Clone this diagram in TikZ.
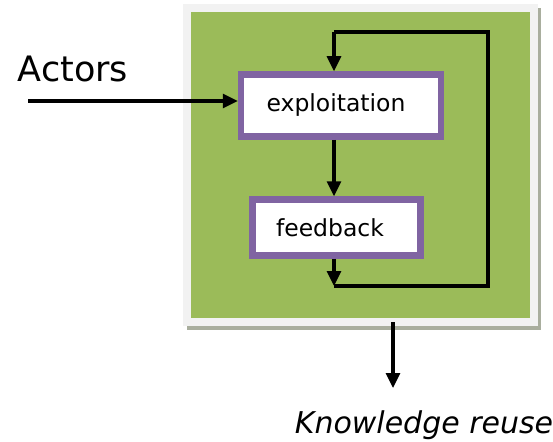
\documentclass[tikz,border=0pt]{standalone}
\usepackage{fontspec}
\setmainfont{DejaVu Sans}
\usetikzlibrary{arrows.meta}
\definecolor{boxgreen}{HTML}{9BBB59}
\definecolor{boxpurple}{HTML}{8064A2}
\definecolor{framegrey}{HTML}{F2F2F2}
\definecolor{shadowgrey}{HTML}{A9AE9E}
\tikzset{
  stepbox/.style={draw=boxpurple, line width=6.5pt, fill=white, inner sep=0pt, font=\fontsize{23.5}{26}\selectfont},
  conn/.style={line width=3.2pt, -{Triangle[length=15pt,width=14pt]}},
  plainline/.style={line width=3.2pt},
}
\begin{document}
\begin{tikzpicture}[x=1pt,y=-1pt]
\useasboundingbox (0,0) rectangle (553,441);
% frame with shadow
\node (shadow) at (364,169) [minimum width=354pt, minimum height=322pt, fill=shadowgrey, inner sep=0pt] {};
\node (frame) at (360.5,165) [minimum width=355pt, minimum height=322pt, fill=framegrey, inner sep=0pt] {};
\node (box) at (360.5,165) [minimum width=339pt, minimum height=306pt, fill=boxgreen, inner sep=0pt] {};
% steps
\node[stepbox, minimum width=200pt, minimum height=62pt] (expl) at (341,105.5) {exploitation\hspace*{10pt}};
\node[stepbox, minimum width=168pt, minimum height=56pt] (fb) at (336.5,227.5) {feedback\hspace*{13pt}};
% loop
\coordinate (ltop) at (334,32);
\coordinate (rtop) at (488,32);
\coordinate (rbot) at (488,286);
\coordinate (lbot) at (334,286);
\draw[conn] (ltop) -- (expl.north -| ltop);
\draw[conn] (expl.south -| ltop) -- (fb.north -| ltop);
\draw[conn] (fb.south -| ltop) -- (lbot);
\draw[plainline, line join=miter] (lbot) -- (rbot) -- (rtop) -- (ltop);
% actors
\node (actors) at (73,69) {\fontsize{35}{40}\selectfont Actors};
\coordinate (astart) at (28,101);
\draw[conn] (astart) -- (expl.west |- astart);
% output
\coordinate (kstart) at (393,322);
\coordinate (kend) at (393,388);
\draw[conn] (kstart) -- (kend);
\node (reuse) at (424,425) {\fontsize{30}{34}\selectfont\itshape Knowledge reuse};
\end{tikzpicture}
\end{document}
